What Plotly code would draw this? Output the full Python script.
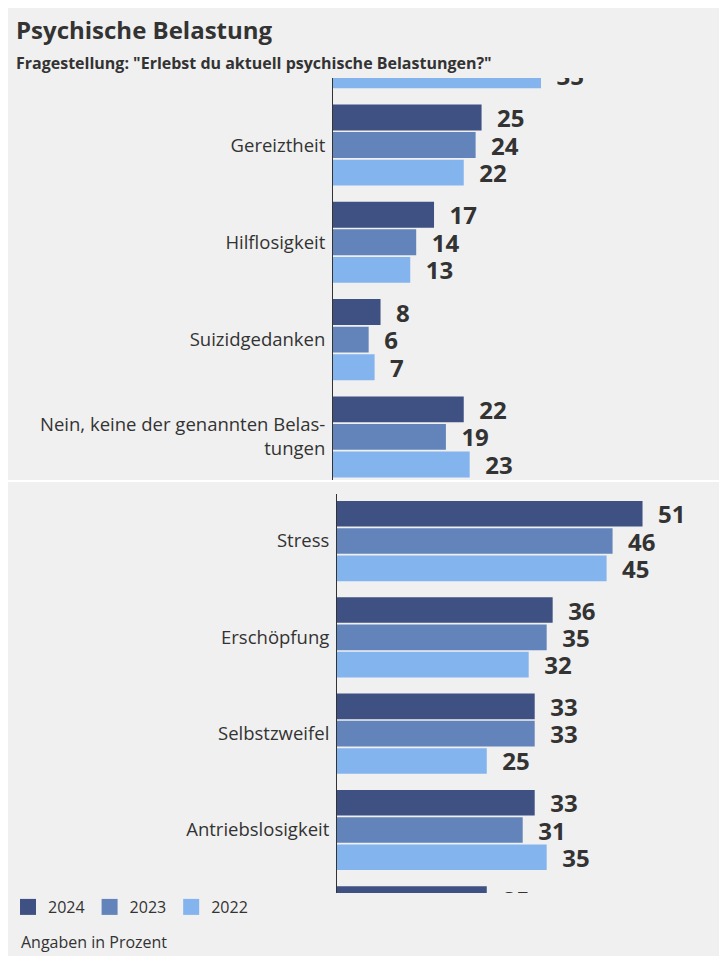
import plotly.graph_objects as go

# ---------------- data ----------------
categories = [
    "Stress",
    "Erschöpfung",
    "Selbstzweifel",
    "Antriebslosigkeit",
    "(verdeckt)",
    "Gereiztheit",
    "Hilflosigkeit",
    "Suizidgedanken",
    "Nein, keine der genannten Belas-<br>tungen",
]
years = ["2024", "2023", "2022"]
v2024 = [51, 36, 33, 33, 25, 25, 17, 8, 22]
v2023 = [46, 35, 33, 31, None, 24, 14, 6, 19]
v2022 = [45, 32, 25, 35, 35, 22, 13, 7, 23]
series = [v2024, v2023, v2022]
colors = ["#3e5182", "#6384ba", "#84b4ee"]

title = "Psychische Belastung"
subtitle = 'Fragestellung: "Erlebst du aktuell psychische Belastungen?"'
note = "Angaben in Prozent"

# ---------------- layout helpers ----------------
W, H = 719, 948
FONT = "Open Sans, Noto Sans, sans-serif"
TXT = "#333333"


def px_x(x):
    return x / W


def px_y(y):
    return 1 - y / H


fig = go.Figure()

panels = [("x", "y"), ("x2", "y2")]
for pi, (xa, ya) in enumerate(panels):
    for name, vals, col in zip(years, series, colors):
        fig.add_trace(
            go.Bar(
                y=categories,
                x=vals,
                orientation="h",
                name=name,
                xaxis=xa,
                yaxis=ya,
                marker=dict(color=col, line=dict(width=0)),
                text=vals,
                texttemplate="\u00a0\u00a0%{x}",
                textposition="outside",
                constraintext="none",
                cliponaxis=True,
                textfont=dict(family=FONT, size=24, color=TXT, weight="bold"),
                showlegend=False,
                hoverinfo="skip",
            )
        )

# legend entries (square swatches)
for name, col in zip(years, colors):
    fig.add_trace(
        go.Scatter(
            x=[None],
            y=[None],
            mode="markers",
            name=name,
            marker=dict(symbol="square", size=16, color=col),
            showlegend=True,
            hoverinfo="skip",
        )
    )

yaxis_common = dict(
    type="category",
    categoryorder="array",
    categoryarray=categories,
    showline=True,
    linecolor="#333333",
    linewidth=1,
    showgrid=False,
    zeroline=False,
    ticks="",
    ticklabelstandoff=3,
    tickfont=dict(family=FONT, size=18.5, color=TXT),
    fixedrange=True,
)
xaxis_common = dict(
    showgrid=False,
    zeroline=False,
    showline=False,
    showticklabels=False,
    ticks="",
    fixedrange=True,
)

fig.update_layout(
    width=W,
    height=H,
    margin=dict(l=0, r=0, t=0, b=0),
    paper_bgcolor="#f0f0f0",
    plot_bgcolor="rgba(0,0,0,0)",
    barmode="group",
    bargap=0.15,
    bargroupgap=0.06,
    font=dict(family=FONT, color=TXT),
    xaxis=dict(xaxis_common, domain=[px_x(325), 1], range=[0, 66.3], anchor="y"),
    yaxis=dict(yaxis_common, domain=[px_y(472), px_y(70)], range=[8.443, 4.311], anchor="x"),
    xaxis2=dict(xaxis_common, domain=[px_x(329), 1], range=[0, 65.1], anchor="y2"),
    yaxis2=dict(yaxis_common, domain=[px_y(885), px_y(486)], range=[3.654, -0.488], anchor="x2"),
    legend=dict(
        orientation="h",
        x=px_x(0),
        y=px_y(899),
        xanchor="left",
        yanchor="middle",
        font=dict(family=FONT, size=16, color=TXT),
        bgcolor="rgba(0,0,0,0)",
        itemclick=False,
        itemdoubleclick=False,
    ),
    annotations=[
        dict(
            text="<b>" + title + "</b>",
            x=px_x(6), y=px_y(21), xref="paper", yref="paper",
            xanchor="left", yanchor="middle", showarrow=False,
            font=dict(family=FONT, size=24, color=TXT),
        ),
        dict(
            text="<b>" + subtitle + "</b>",
            x=px_x(6), y=px_y(55), xref="paper", yref="paper",
            xanchor="left", yanchor="middle", showarrow=False,
            font=dict(family=FONT, size=16, color=TXT),
        ),
        dict(
            text=note,
            x=px_x(11), y=px_y(934), xref="paper", yref="paper",
            xanchor="left", yanchor="middle", showarrow=False,
            font=dict(family=FONT, size=16, color=TXT),
        ),
    ],
    shapes=[
        dict(
            type="rect", xref="paper", yref="paper",
            x0=0, x1=1, y0=px_y(474), y1=px_y(472),
            fillcolor="#ffffff", line=dict(width=0), layer="above",
        )
    ],
)

fig.write_html(
    "out.html",
    config={"displayModeBar": False, "staticPlot": True},
    post_script="document.body.style.overflow='hidden';",
)
